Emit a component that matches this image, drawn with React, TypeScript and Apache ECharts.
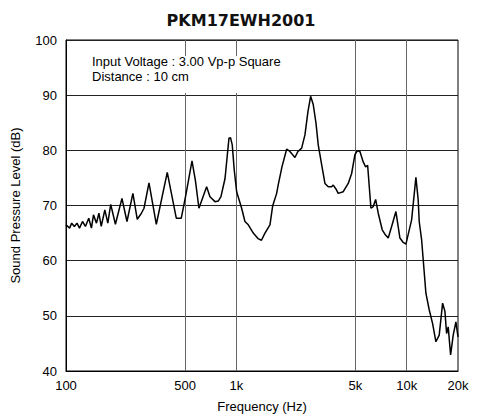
import React, { useEffect, useRef } from "react";
import * as echarts from "echarts";

const titleText = "PKM17EWH2001";
const noteLines = ["Input Voltage : 3.00 Vp-p Square", "Distance : 10 cm"];

// Frequency (Hz) and sound pressure level (dB)
const frequencies = [
  100, 105, 108, 112, 116, 120, 125, 130, 136, 141, 145, 151, 156, 161, 169, 176, 183, 195, 213, 228,
  247, 262, 276, 287, 307, 339, 393, 444, 475, 506, 549, 575, 603, 669, 700, 749, 783, 812, 858, 905,
  924, 946, 972, 1004, 1074, 1123, 1175, 1257, 1339, 1404, 1472, 1575, 1633, 1724, 1762, 1852, 1973, 2063, 2208, 2299,
  2417, 2527, 2632, 2729, 2827, 2932, 3024, 3167, 3311, 3462, 3625, 3704, 3841, 3963, 4240, 4536, 4750, 4966, 5123, 5313,
  5555, 5739, 5896, 6165, 6360, 6569, 6804, 7182, 7449, 7789, 8155, 8642, 9123, 9539, 9893, 10685, 11323, 11680, 11839, 12229,
  12961, 13552, 14191, 14838, 15515, 16244, 16757, 17146, 17521, 18099, 18745, 19441, 20000,
];
const splDb = [
  66.5, 65.9, 66.8, 66.2, 66.8, 65.9, 67.1, 66.2, 67.7, 65.9, 68.3, 66.8, 68.6, 66.2, 69.2, 66.8, 70.2, 66.6, 71.3, 67.1,
  72.2, 67.5, 68.5, 69.5, 74.1, 66.6, 76.0, 67.7, 67.7, 72.0, 78.1, 74.5, 69.5, 73.4, 71.6, 70.7, 70.8, 71.6, 74.9, 82.2,
  82.3, 81.0, 76.4, 72.5, 69.5, 67.1, 66.5, 65.0, 64.0, 63.7, 65.0, 66.5, 69.9, 72.2, 73.8, 77.0, 80.2, 79.8, 78.7, 79.8,
  80.4, 82.8, 87.0, 89.8, 88.3, 85.0, 81.0, 77.4, 74.0, 73.4, 73.4, 73.7, 73.0, 72.2, 72.5, 74.0, 75.8, 79.2, 79.9, 79.8,
  77.9, 77.0, 77.3, 69.5, 69.8, 71.1, 68.6, 65.6, 64.8, 64.1, 66.2, 68.9, 64.1, 63.3, 63.0, 67.4, 75.1, 71.0, 67.1, 63.8,
  54.1, 51.1, 48.6, 45.3, 46.5, 52.3, 50.8, 46.8, 48.0, 42.9, 46.5, 48.9, 46.2,
];

const xTickValues = [100, 500, 1000, 5000, 10000, 20000];
const xTickLabels = ["100", "500", "1k", "5k", "10k", "20k"];
const xGridValues = [500, 1000, 5000, 10000];
const yMin = 40;
const yMax = 100;
const yStep = 10;
const xName = "Frequency (Hz)";
const yName = "Sound Pressure Level (dB)";

const FONT = "Liberation Sans, Arial, sans-serif";

export default function App() {
  const ref = useRef<HTMLDivElement>(null);

  useEffect(() => {
    if (!ref.current) return;
    const chart = echarts.init(ref.current, undefined, { renderer: "svg" });
    const lg = (f: number) => Math.log10(f);
    const tickLogs = xTickValues.map(lg);
    const labelFor = (v: number) => {
      let best = 0;
      let d = Infinity;
      tickLogs.forEach((t, i) => {
        if (Math.abs(t - v) < d) {
          d = Math.abs(t - v);
          best = i;
        }
      });
      return xTickLabels[best];
    };

    chart.setOption({
      animation: false,
      backgroundColor: "#fff",
      title: {
        text: titleText,
        left: 236,
        top: 7,
        textAlign: "center",
        textStyle: { fontFamily: "DejaVu Sans", fontWeight: "bold", fontSize: 16, color: "#111" },
      },
      grid: {
        left: 66,
        right: 20,
        top: 40,
        bottom: 49,
        containLabel: false,
        show: true,
        borderColor: "#000",
        borderWidth: 1,
      },
      xAxis: {
        type: "value",
        min: lg(xTickValues[0]),
        max: lg(xTickValues[xTickValues.length - 1]),
        name: xName,
        nameLocation: "middle",
        nameGap: 29,
        nameTextStyle: { fontFamily: FONT, fontSize: 13, color: "#000" },
        axisLine: { show: true, lineStyle: { color: "#000", width: 1 } },
        axisTick: { show: false },
        splitLine: { show: false },
        axisLabel: {
          customValues: tickLogs,
          showMinLabel: true,
          showMaxLabel: true,
          formatter: (v: number) => labelFor(v),
          fontFamily: FONT,
          fontSize: 13,
          color: "#000",
          margin: 8,
        },
      },
      yAxis: {
        type: "value",
        min: yMin,
        max: yMax,
        interval: yStep,
        name: yName,
        nameLocation: "middle",
        nameGap: 44,
        nameRotate: 90,
        nameTextStyle: { fontFamily: FONT, fontSize: 13, color: "#000" },
        axisLine: { show: true, lineStyle: { color: "#000", width: 1 } },
        axisTick: { show: false },
        splitLine: { show: true, lineStyle: { color: "#222", width: 1 } },
        axisLabel: { fontFamily: FONT, fontSize: 13, color: "#000", margin: 9 },
      },
      graphic: [
        {
          type: "rect",
          z: 100,
          shape: { x: 88, y: 56, width: 202, height: 37 },
          style: { fill: "#fff" },
        },
        {
          type: "text",
          z: 101,
          x: 92,
          y: 61,
          style: {
            text: noteLines[0],
            font: `13px ${FONT}`,
            fill: "#000",
            verticalAlign: "middle",
          },
        },
        {
          type: "text",
          z: 101,
          x: 92,
          y: 76,
          style: {
            text: noteLines[1],
            font: `13px ${FONT}`,
            fill: "#000",
            verticalAlign: "middle",
          },
        },
      ],
      series: [
        {
          type: "line",
          data: frequencies.map((f, i) => [lg(f), splDb[i]]),
          showSymbol: false,
          symbol: "none",
          smooth: false,
          lineStyle: { color: "#000", width: 1.5 },
          z: 5,
          markLine: {
            silent: true,
            symbol: "none",
            label: { show: false },
            lineStyle: { color: "#666", width: 1, type: "solid" },
            data: xGridValues.map((f) => ({ xAxis: lg(f) })),
            z: 1,
          },
        },
      ],
    });
    return () => chart.dispose();
  }, []);

  return (
    <div
      ref={ref}
      style={{ position: "absolute", left: 0, top: 0, width: 478, height: 420 }}
    />
  );
}
